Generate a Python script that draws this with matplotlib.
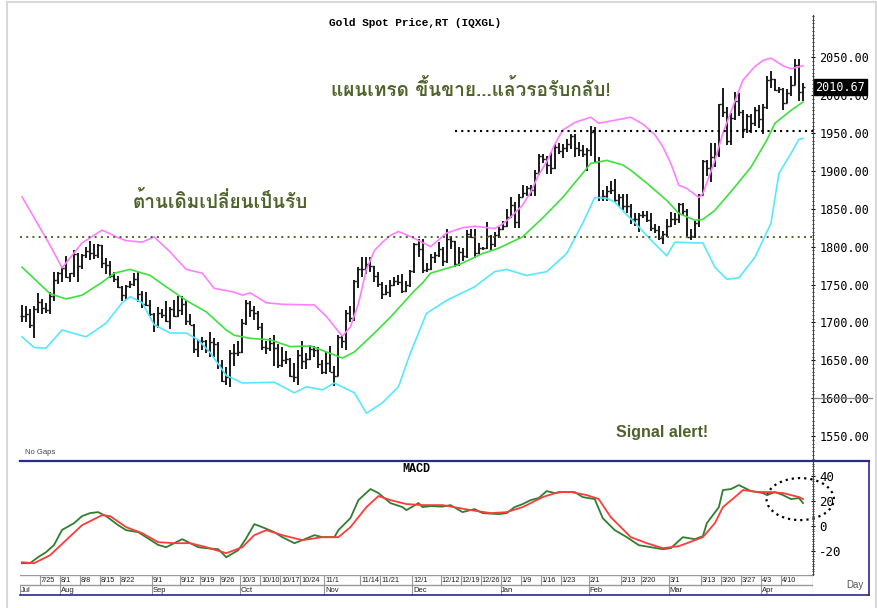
import numpy as np
import pandas as pd
import matplotlib
matplotlib.use('Agg')
import matplotlib.pyplot as plt
from matplotlib.patches import Ellipse

# trading days, Jul 18 2022 .. Apr 17 2023 (no gaps)
dates = pd.bdate_range('2022-07-18', '2023-04-17')

opens = [1708,1709,1711,1696,1718, 1727,1719,1717,1735,1756, 1765,1772,1760,1765,1791,
         1775,1789,1794,1792,1789, 1802,1779,1776,1761,1758, 1747,1736,1748,1751,1758,
         1737,1724,1723,1711,1697, 1712,1710,1702,1718,1708, 1716,1724,1702,1697,1665,
         1675,1675,1664,1674,1671, 1644,1622,1628,1660,1660, 1661,1699,1725,1716,1712,
         1694,1668,1666,1673,1666, 1644,1650,1652,1629,1628, 1657,1649,1652,1665,1663,
         1645,1634,1647,1635,1629, 1681,1676,1712,1706,1755, 1771,1771,1777,1774,1761,
         1751,1738,1740,1750,1755, 1754,1741,1750,1768,1803, 1797,1769,1771,1787,1789,
         1797,1781,1810,1807,1777, 1793,1788,1817,1813,1792, 1798,1798,1814,1804,1815,
         1824,1827,1839,1855,1832, 1865,1871,1877,1875,1897, 1920,1916,1908,1904,1932,
         1926,1931,1936,1946,1930, 1928,1923,1928,1951,1912, 1865,1867,1873,1875,1862,
         1865,1854,1854,1836,1836, 1842,1842,1835,1825,1822, 1811,1817,1827,1836,1836,
         1856,1847,1813,1814,1831, 1868,1913,1904,1918,1923, 1989,1978,1940,1970,1993,
         1978,1956,1973,1964,1980, 1969,1984,2020,2021,2007, 2008,1990,2003,2014,2040,
         2004]
highs = [1723,1722,1718,1722,1739, 1731,1726,1740,1767,1767, 1775,1788,1765,1795,1792,
         1791,1800,1808,1804,1803, 1802,1785,1781,1766,1761, 1748,1749,1755,1765,1766,
         1741,1740,1729,1712,1721, 1718,1728,1721,1729,1735, 1735,1729,1711,1698,1678,
         1681,1677,1688,1680,1674, 1650,1641,1663,1672,1676, 1704,1729,1728,1722,1715,
         1699,1675,1679,1683,1671, 1667,1662,1653,1646,1664, 1675,1659,1670,1669,1667,
         1650,1661,1669,1642,1684, 1683,1716,1722,1756,1773, 1786,1787,1786,1774,1766,
         1753,1749,1756,1760,1762, 1764,1755,1769,1805,1810, 1810,1778,1791,1793,1806,
         1799,1824,1814,1808,1800, 1798,1822,1823,1824,1805, 1800,1833,1815,1820,1826,
         1834,1850,1865,1859,1869, 1881,1880,1881,1901,1922, 1923,1920,1925,1935,1937,
         1935,1942,1949,1949,1938, 1934,1931,1959,1958,1918, 1875,1880,1887,1890,1870,
         1869,1870,1857,1845,1845, 1847,1847,1845,1830,1827, 1821,1837,1846,1845,1858,
         1858,1850,1823,1834,1870, 1914,1915,1937,1937,1989, 2010,1984,1976,2004,2003,
         1980,1975,1975,1984,1987, 1989,2025,2032,2022,2011, 2009,2008,2025,2048,2048,
         2016]
lows = [1701,1700,1692,1680,1712, 1711,1712,1711,1728,1751, 1754,1759,1754,1760,1754,
        1771,1785,1783,1784,1785, 1772,1764,1759,1753,1745, 1728,1729,1745,1748,1727,
        1719,1722,1709,1688,1692, 1706,1700,1691,1707,1707, 1710,1697,1696,1660,1654,
        1663,1659,1654,1654,1639, 1621,1618,1615,1642,1656, 1659,1696,1707,1703,1690,
        1663,1658,1662,1642,1640, 1641,1645,1628,1621,1618, 1639,1639,1650,1654,1640,
        1632,1632,1634,1616,1629, 1666,1664,1700,1702,1745, 1760,1764,1766,1754,1747,
        1731,1736,1733,1748,1749, 1739,1740,1747,1765,1787, 1765,1766,1769,1779,1786,
        1775,1778,1797,1773,1774, 1781,1785,1811,1785,1790, 1795,1797,1796,1799,1812,
        1822,1826,1838,1825,1825, 1865,1867,1867,1867,1895, 1911,1896,1896,1902,1922,
        1917,1925,1929,1918,1920, 1918,1900,1920,1910,1861, 1860,1860,1870,1859,1853,
        1849,1844,1830,1828,1819, 1838,1832,1821,1818,1809, 1804,1813,1826,1829,1831,
        1842,1813,1809,1812,1826, 1868,1894,1885,1905,1918, 1971,1934,1934,1967,1972,
        1944,1950,1950,1960,1957, 1949,1982,2010,2005,2003, 1981,1990,1999,2013,1992,
        1993]
closes = [1709,1711,1696,1718,1727, 1719,1717,1735,1756,1765, 1772,1760,1765,1791,1775,
          1789,1794,1792,1789,1802, 1779,1776,1761,1758,1747, 1736,1748,1751,1758,1737,
          1724,1723,1711,1697,1712, 1710,1702,1718,1708,1716, 1724,1702,1697,1665,1675,
          1675,1664,1674,1671,1644, 1622,1628,1660,1660,1661, 1699,1725,1716,1712,1694,
          1668,1666,1673,1666,1644, 1650,1652,1629,1628,1657, 1649,1652,1665,1663,1645,
          1634,1647,1635,1629,1681, 1676,1712,1706,1755,1771, 1771,1777,1774,1761,1751,
          1738,1740,1750,1755,1754, 1741,1750,1768,1803,1797, 1769,1771,1787,1789,1797,
          1781,1810,1807,1777,1793, 1788,1817,1813,1792,1798, 1798,1814,1804,1815,1824,
          1827,1839,1855,1832,1865, 1871,1877,1875,1897,1920, 1916,1908,1904,1932,1926,
          1931,1936,1946,1930,1928, 1923,1928,1951,1912,1865, 1867,1873,1875,1862,1865,
          1854,1854,1836,1836,1842, 1842,1835,1825,1822,1811, 1817,1827,1836,1836,1856,
          1847,1813,1814,1831,1868, 1913,1904,1918,1923,1989, 1978,1940,1970,1993,1978,
          1956,1973,1964,1980,1969, 1984,2020,2021,2007,2008, 1990,2003,2014,2040,2004,
          2010.67]

# Bollinger bands
upper_dates = ['2022-07-18','2022-07-27','2022-08-01','2022-08-08','2022-08-15','2022-08-19',
               '2022-08-23','2022-08-29','2022-09-01','2022-09-07','2022-09-13','2022-09-19',
               '2022-09-22','2022-09-29','2022-10-03','2022-10-05','2022-10-11','2022-10-17',
               '2022-10-27','2022-11-01','2022-11-04','2022-11-07','2022-11-09','2022-11-11',
               '2022-11-15','2022-11-17','2022-11-21','2022-11-23','2022-11-25','2022-11-28',
               '2022-12-01','2022-12-07','2022-12-13','2022-12-19','2022-12-22','2022-12-29',
               '2023-01-02','2023-01-04','2023-01-09','2023-01-11','2023-01-13','2023-01-17',
               '2023-01-19','2023-01-23','2023-01-26','2023-02-01','2023-02-03','2023-02-09',
               '2023-02-15','2023-02-20','2023-02-23','2023-02-27','2023-03-01','2023-03-03',
               '2023-03-07','2023-03-10','2023-03-13','2023-03-16','2023-03-20','2023-03-22',
               '2023-03-27','2023-03-30','2023-04-03','2023-04-05','2023-04-10','2023-04-12',
               '2023-04-17']
upper_vals = [1866,1802,1772,1805,1822,1812, 1808,1806,1813,1793,1770,1765,
              1745,1740,1736,1739,1726,1724, 1723,1708,1688,1682,1694,1725,
              1770,1795,1806,1815,1820,1818, 1811,1800,1818,1825,1827,1824,
              1830,1839,1855,1872,1895,1912, 1935,1954,1964,1971,1963,1967,
              1971,1962,1948,1932,1910,1881, 1877,1865,1870,1914,1950,1978,
              2020,2038,2046,2049,2039,2035, 2039]

mid_dates = ['2022-07-18','2022-07-27','2022-08-02','2022-08-08','2022-08-15','2022-08-18',
             '2022-08-24','2022-08-31','2022-09-06','2022-09-13','2022-09-20','2022-09-27',
             '2022-09-29','2022-10-05','2022-10-12','2022-10-19','2022-10-26','2022-11-01',
             '2022-11-07','2022-11-10','2022-11-17','2022-11-23','2022-12-01','2022-12-05',
             '2022-12-07','2022-12-16','2022-12-26','2022-12-30','2023-01-09','2023-01-16',
             '2023-01-23','2023-01-30','2023-02-01','2023-02-07','2023-02-13','2023-02-15',
             '2023-02-21','2023-02-28','2023-03-03','2023-03-09','2023-03-13','2023-03-16',
             '2023-03-23','2023-03-29','2023-04-04','2023-04-06','2023-04-12','2023-04-17']
mid_vals = [1773,1738,1731,1736,1753,1765, 1770,1762,1747,1729,1714,1690,
            1683,1679,1677,1668,1669,1661, 1653,1661,1686,1707,1742,1752,
            1765,1776,1791,1798,1813,1838, 1865,1897,1910,1914,1908,1901,
            1884,1861,1844,1835,1836,1848, 1879,1905,1941,1963,1980,1991]

lower_dates = ['2022-07-18','2022-07-21','2022-07-26','2022-08-01','2022-08-03','2022-08-09',
               '2022-08-16','2022-08-22','2022-08-24','2022-08-29','2022-09-01','2022-09-07',
               '2022-09-13','2022-09-16','2022-09-21','2022-09-27','2022-10-03','2022-10-13',
               '2022-10-20','2022-10-25','2022-10-31','2022-11-03','2022-11-10','2022-11-15',
               '2022-11-21','2022-11-25','2022-11-30','2022-12-06','2022-12-13','2022-12-22',
               '2022-12-29','2023-01-03','2023-01-10','2023-01-17','2023-01-24','2023-01-30',
               '2023-02-02','2023-02-07','2023-02-09','2023-02-14','2023-02-16','2023-02-22',
               '2023-02-28','2023-03-02','2023-03-09','2023-03-13','2023-03-16','2023-03-21',
               '2023-03-24','2023-03-30','2023-04-05','2023-04-07','2023-04-12','2023-04-14',
               '2023-04-17']
lower_vals = [1681,1667,1666,1690,1687,1681, 1699,1726,1734,1726,1697,1686,
              1686,1677,1660,1630,1620,1621, 1607,1615,1611,1620,1607,1580,
              1594,1615,1660,1712,1729,1747, 1767,1770,1762,1767,1791,1831,
              1865,1864,1859,1842,1832,1809, 1788,1806,1805,1805,1773,1757,
              1759,1786,1831,1897,1923,1942, 1943]

# MACD and signal line
macd_dates = ['2022-07-18','2022-07-20','2022-07-22','2022-07-26','2022-07-28','2022-08-01',
              '2022-08-04','2022-08-08','2022-08-10','2022-08-12','2022-08-16','2022-08-19',
              '2022-08-23','2022-08-26','2022-08-30','2022-09-02','2022-09-06','2022-09-08',
              '2022-09-12','2022-09-13','2022-09-16','2022-09-20','2022-09-23','2022-09-27',
              '2022-09-30','2022-10-04','2022-10-06','2022-10-10','2022-10-13','2022-10-17',
              '2022-10-20','2022-10-24','2022-10-27','2022-10-31','2022-11-03','2022-11-04',
              '2022-11-09','2022-11-11','2022-11-16','2022-11-18','2022-11-23','2022-11-28',
              '2022-11-29','2022-12-02','2022-12-05','2022-12-07','2022-12-12','2022-12-14',
              '2022-12-19','2022-12-22','2022-12-26','2022-12-30','2023-01-03','2023-01-05',
              '2023-01-09','2023-01-11','2023-01-13','2023-01-17','2023-01-19','2023-01-23',
              '2023-01-26','2023-01-30','2023-02-02','2023-02-06','2023-02-09','2023-02-14',
              '2023-02-17','2023-02-22','2023-02-27','2023-03-01','2023-03-06','2023-03-09',
              '2023-03-13','2023-03-14','2023-03-17','2023-03-20','2023-03-22','2023-03-24',
              '2023-03-27','2023-03-29','2023-04-03','2023-04-04','2023-04-06','2023-04-10',
              '2023-04-12','2023-04-14','2023-04-17']
macd_vals = [-29.6,-29.6,-24.8,-20.8,-15,-3, 2.4,8,10.4,11.2,8,0.8,
             -3.2,-4.8,-8.8,-15,-16.8,-13.6, -10.4,-12,-16.8,-17.6,-18.4,-24.8,
             -19.2,-9.6,1.6,-0.8,-4.8,-8.8, -13.6,-11.2,-7.2,-8.8,-8.8,-3.2,
             6.4,20.8,29.6,26.4,18.4,15.2, 12.8,18.4,15.2,16,15.6,16.8,
             11.2,13.6,10.4,9.6,10.4,15.2, 17.6,20.8,22.4,28,26.4,27.2,
             27.2,23.2,21.6,6.4,-3.2,-8.8, -15.2,-16.8,-18.4,-17.6,-8.8,-10.4,
             -8,2.4,15.2,28.8,29.6,32.8, 31.2,28,26.4,24.8,27.2,24.8,
             21.6,22.4,18.4]

signal_dates = ['2022-07-18','2022-07-21','2022-07-27','2022-08-02','2022-08-08','2022-08-15',
                '2022-08-17','2022-08-23','2022-08-29','2022-09-02','2022-09-08','2022-09-14',
                '2022-09-20','2022-09-27','2022-10-03','2022-10-06','2022-10-11','2022-10-17',
                '2022-10-24','2022-10-31','2022-11-04','2022-11-09','2022-11-15','2022-11-18',
                '2022-11-23','2022-11-29','2022-12-05','2022-12-12','2022-12-21','2022-12-28',
                '2023-01-03','2023-01-09','2023-01-16','2023-01-20','2023-01-25','2023-01-31',
                '2023-02-03','2023-02-08','2023-02-15','2023-02-21','2023-02-27','2023-03-03',
                '2023-03-09','2023-03-13','2023-03-16','2023-03-20','2023-03-23','2023-03-27',
                '2023-03-31','2023-04-05','2023-04-10','2023-04-14','2023-04-17']
signal_vals = [-28.8,-29.6,-23.2,-11.2,0.8,8.8, 8,-0.8,-5.6,-12.8,-13.6,-13.6,
               -16.8,-21.6,-16.8,-7.2,-3.2,-7.2, -11.2,-8.8,-8.8,-0.8,15.2,24,
               20.8,17.6,16.8,16.8,12.8,10.4, 11.2,15.2,23.2,27.2,27.2,24.8,
               21.6,7.2,-8.8,-13.6,-17.6,-16, -11.2,-8.8,2.4,15.2,23.2,28.8,
               27.2,27.2,26.4,23.2,21.6]

# axis labels
day_ticks = ['2022-07-25','2022-08-01','2022-08-08','2022-08-15','2022-08-22','2022-09-01',
             '2022-09-12','2022-09-19','2022-09-26','2022-10-03','2022-10-10','2022-10-17',
             '2022-10-24','2022-11-01','2022-11-14','2022-11-21','2022-12-01','2022-12-12',
             '2022-12-19','2022-12-26','2023-01-02','2023-01-09','2023-01-16','2023-01-23',
             '2023-02-01','2023-02-13','2023-02-20','2023-03-01','2023-03-13','2023-03-20',
             '2023-03-27','2023-04-03','2023-04-10']
month_ticks = ['2022-07-18','2022-08-01','2022-09-01','2022-10-03','2022-11-01','2022-12-01',
               '2023-01-02','2023-02-01','2023-03-01','2023-04-03']
month_names = ['Jul','Aug','Sep','Oct','Nov','Dec','Jan','Feb','Mar','Apr']
price_ticks = [1550, 1600, 1650, 1700, 1750, 1800, 1850, 1900, 1950, 2000, 2050]
macd_ticks = [-20, 0, 20, 40]


def pos(ds):
    return dates.get_indexer(pd.to_datetime(ds))


thai_family = ['Loma', 'Sarabun', 'Noto Sans Thai', 'DejaVu Sans']

W, H = 878, 608
fig = plt.figure(figsize=(W / 100, H / 100), dpi=100)
fig.patch.set_facecolor('white')


def px(x0, y0, x1, y1):
    return [x0 / W, 1 - y1 / H, (x1 - x0) / W, (y1 - y0) / H]


ax = fig.add_axes(px(20, 15, 813, 461))
axm = fig.add_axes(px(20, 461, 813, 575))
axd = fig.add_axes(px(20, 575, 813, 595))

x = np.arange(len(dates))
xlim = (-0.5, 197.5)
olive = '#4f6228'

# price bars
ax.vlines(x, lows, highs, color='#1a1a1a', lw=1.4)
ax.hlines(opens, x - 0.5, x, color='#1a1a1a', lw=1.0)
ax.hlines(closes, x, x + 0.5, color='#1a1a1a', lw=1.0)

ax.plot(pos(upper_dates), upper_vals, color='#ff80ff', lw=1.2)
ax.plot(pos(mid_dates), mid_vals, color='#3ee03e', lw=1.2)
ax.plot(pos(lower_dates), lower_vals, color='#55e8ff', lw=1.2)

ax.axhline(1813, color=olive, lw=1.4, ls=(0, (1, 2.2)))
ax.hlines(1953, pos(['2022-12-15'])[0], xlim[1], color='black', lw=1.5, ls=(0, (1, 2)))

ax.set_xlim(*xlim)
ax.set_ylim(1517, 2106)
ax.yaxis.tick_right()
ax.set_yticks(price_ticks)
ax.set_yticklabels(['%.2f' % v for v in price_ticks], family='DejaVu Sans Mono', fontsize=8.5)
ax.set_yticks(np.arange(1520, 2110, 5), minor=True)
ax.tick_params(axis='y', which='major', length=3, width=0.8, direction='inout', pad=3)
ax.tick_params(axis='y', which='minor', length=2, width=0.6, direction='inout')
ax.set_xticks([])
for s in ['left', 'top', 'bottom']:
    ax.spines[s].set_visible(False)
ax.spines['right'].set_color('#444444')

# last price tag
ax.text(1.003, closes[-1], '%.2f' % closes[-1], transform=ax.get_yaxis_transform(),
        family='DejaVu Sans Mono', fontsize=8.5, color='white', va='center', ha='left',
        bbox=dict(boxstyle='square,pad=0.12', fc='black', ec='black'), zorder=10)
ax.plot([1.0, 1.075], [1600, 1600], transform=ax.get_yaxis_transform(), clip_on=False,
        color='#888888', lw=0.9)

fig.text(415 / W, 1 - 23 / H, 'Gold Spot Price,RT (IQXGL)', family='Liberation Mono',
         weight='bold', fontsize=8, ha='center', va='center')
fig.text(471 / W, 1 - 89 / H, 'แผนเทรด ขึ้นขาย...แล้วรอรับกลับ!', family=thai_family,
         weight='bold', fontsize=13.7, color=olive, ha='center', va='center')
fig.text(220 / W, 1 - 201 / H, 'ต้านเดิมเปลี่ยนเป็นรับ', family=thai_family,
         weight='bold', fontsize=13.7, color=olive, ha='center', va='center')
fig.text(662 / W, 1 - 432 / H, 'Signal alert!', family='Liberation Sans',
         weight='bold', fontsize=11.5, color=olive, ha='center', va='center')
fig.text(25 / W, 1 - 452 / H, 'No Gaps', family='Liberation Sans', fontsize=5.5,
         color='#444444', ha='left', va='center')

# MACD panel
axm.plot(pos(macd_dates), macd_vals, color='#2f7f2f', lw=1.3)
axm.plot(pos(signal_dates), signal_vals, color='#ff3b3b', lw=1.3)
axm.add_patch(Ellipse((194.3, 21.6), 16.8, 33.6, fill=False, ec='black', lw=1.6,
                      ls=(0, (1, 1.8)), clip_on=False))
axm.set_xlim(*xlim)
axm.set_ylim(-39, 52)
axm.yaxis.tick_right()
axm.set_yticks(macd_ticks)
axm.set_yticklabels([str(v) for v in macd_ticks], family='DejaVu Sans Mono', fontsize=9)
axm.set_yticks(np.arange(-38, 52, 2), minor=True)
axm.tick_params(axis='y', which='major', length=3, width=0.8, direction='inout', pad=3)
axm.tick_params(axis='y', which='minor', length=2, width=0.6, direction='inout')
axm.set_xticks([])
for s in ['left', 'top', 'bottom']:
    axm.spines[s].set_visible(False)
axm.spines['right'].set_color('#444444')
axm.text(0.5, 0.93, 'MACD', transform=axm.transAxes, family='Liberation Mono',
         weight='bold', fontsize=8.5, ha='center', va='center')

# date strip
axd.set_xlim(*xlim)
axd.set_ylim(0, 1)
axd.axis('off')
axd.axhline(1, color='#999999', lw=1.0)
axd.axhline(0.5, color='#999999', lw=1.0)
axd.axvline(xlim[1], color='#444444', lw=0.8)
for d, lab in zip(pos(day_ticks), day_ticks):
    t = pd.Timestamp(lab)
    axd.vlines(d - 0.5, 0.5, 1, color='#999999', lw=0.8)
    axd.text(d - 0.3, 0.74, '%d/%d' % (t.month, t.day), family='Liberation Sans',
             fontsize=5.3, va='center', ha='left', color='#222222')
for d, lab in zip(pos(month_ticks), month_names):
    axd.vlines(d - 0.5, 0, 0.5, color='#999999', lw=0.8)
    axd.text(d - 0.3, 0.25, lab, family='Liberation Sans', fontsize=5.5,
             va='center', ha='left', color='#222222')

fig.text(855 / W, 1 - 585 / H, 'Day', family='Liberation Sans', fontsize=7,
         color='#555555', ha='center', va='center')

# frames
navy = '#2a2a8c'
fig.add_artist(plt.Line2D([20 / W, 869 / W], [1 - 461 / H] * 2, color=navy, lw=1.6))
fig.add_artist(plt.Line2D([20 / W, 869 / W], [1 - 595 / H] * 2, color=navy, lw=1.2))
fig.add_artist(plt.Line2D([869 / W] * 2, [1 - 461 / H, 1 - 595 / H], color=navy, lw=1.2))
fig.add_artist(plt.Line2D([7.5 / W] * 2, [0, 1 - 2 / H], color='#d8d8d8', lw=1.5))
fig.add_artist(plt.Line2D([876 / W] * 2, [0, 1 - 2 / H], color='#d8d8d8', lw=1.5))
fig.add_artist(plt.Line2D([7.5 / W, 876 / W], [1 - 2 / H] * 2, color='#d8d8d8', lw=1.5))

fig.savefig('out.png', dpi=100)
